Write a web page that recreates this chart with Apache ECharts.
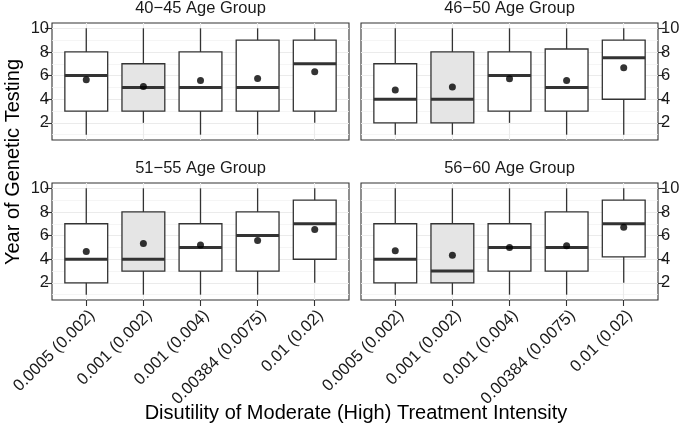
<!DOCTYPE html>
<html>
<head>
<meta charset="utf-8">
<script src="https://cdn.jsdelivr.net/npm/echarts@6/dist/echarts.min.js"></script>
<style>
html,body{margin:0;padding:0;background:#fff;}
#chart{width:685px;height:434px;}
</style>
</head>
<body>
<div id="chart"></div>
<script>
// ---- data ----
const categories = ['0.0005 (0.002)', '0.001 (0.002)', '0.001 (0.004)', '0.00384 (0.0075)', '0.01 (0.02)'];
const panelTitles = ['40\u221245 Age Group', '46\u221250 Age Group', '51\u221255 Age Group', '56\u221260 Age Group'];
const yTicks = [2, 4, 6, 8, 10];
const yMinorTicks = [1, 3, 5, 7, 9];
const xTicks = [1, 2, 3, 4, 5];

const low_40_45 = [1, 2, 1, 1, 2];
const q1_40_45 = [3, 3, 3, 3, 3];
const median_40_45 = [6, 5, 5, 5, 7];
const q3_40_45 = [8, 7, 8, 9, 9];
const high_40_45 = [10, 10, 10, 10, 10];
const mean_40_45 = [5.65, 5.08, 5.59, 5.76, 6.32];

const low_46_50 = [1, 1, 2, 1, 1];
const q1_46_50 = [2, 2, 3, 3, 4];
const median_46_50 = [4, 4, 6, 5, 7.5];
const q3_46_50 = [7, 8, 8, 8.25, 9];
const high_46_50 = [10, 10, 10, 10, 10];
const mean_46_50 = [4.78, 5.03, 5.73, 5.59, 6.66];

const low_51_55 = [1, 1, 1, 1, 2];
const q1_51_55 = [2, 3, 3, 3, 4];
const median_51_55 = [4, 4, 5, 6, 7];
const q3_51_55 = [7, 8, 7, 8, 9];
const high_51_55 = [10, 10, 10, 10, 10];
const mean_51_55 = [4.66, 5.34, 5.2, 5.59, 6.52];

const low_56_60 = [1, 1, 1, 1, 2];
const q1_56_60 = [2, 2, 3, 3, 4.2];
const median_56_60 = [4, 3, 5, 5, 7];
const q3_56_60 = [7, 7, 7, 8, 9];
const high_56_60 = [10, 10, 10, 10, 10];
const mean_56_60 = [4.72, 4.33, 5.0, 5.14, 6.71];

const panels = [
  {low: low_40_45, q1: q1_40_45, med: median_40_45, q3: q3_40_45, high: high_40_45, mean: mean_40_45},
  {low: low_46_50, q1: q1_46_50, med: median_46_50, q3: q3_46_50, high: high_46_50, mean: mean_46_50},
  {low: low_51_55, q1: q1_51_55, med: median_51_55, q3: q3_51_55, high: high_51_55, mean: mean_51_55},
  {low: low_56_60, q1: q1_56_60, med: median_56_60, q3: q3_56_60, high: high_56_60, mean: mean_56_60}
];

// ---- layout / style ----
const FONT = 'Liberation Sans, Arial, Helvetica, sans-serif';
const gridBoxes = [
  {left: 52, top: 23, width: 297, height: 117},
  {left: 361, top: 23, width: 297, height: 117},
  {left: 52, top: 183, width: 297, height: 117},
  {left: 361, top: 183, width: 297, height: 117}
];
const highlightIndex = 1;
const STROKE = '#333333';
const TICK_FONT = 16.5;

const chart = echarts.init(document.getElementById('chart'), null, {renderer: 'canvas'});

const grid = gridBoxes.map(g => Object.assign({
  show: true, borderColor: STROKE, borderWidth: 1.1, backgroundColor: '#ffffff', containLabel: false
}, g));

const xAxis = gridBoxes.map((g, i) => {
  const bottomRow = i >= 2;
  return {
    type: 'value', gridIndex: i, min: 0.4, max: 5.6,
    axisLine: {show: false},
    axisTick: {show: bottomRow, customValues: xTicks, length: 6, lineStyle: {color: STROKE, width: 1.1}},
    axisLabel: {
      show: bottomRow, customValues: xTicks, rotate: 45, margin: 7,
      align: 'right', verticalAlign: 'top',
      fontFamily: FONT, fontSize: TICK_FONT, color: '#1a1a1a',
      formatter: v => categories[Math.round(v) - 1] || ''
    },
    splitLine: {show: true, lineStyle: {color: '#ebebeb', width: 1.1}},
    minorSplitLine: {show: false}
  };
});

const yAxis = [];
gridBoxes.forEach((g, i) => {
  const rightSide = (i % 2) === 1;
  yAxis.push({
    type: 'value', gridIndex: i, min: 0.55, max: 10.45,
    position: rightSide ? 'right' : 'left',
    axisLine: {show: false},
    axisTick: {show: true, customValues: yTicks, length: 7, lineStyle: {color: STROKE, width: 1.1}},
    axisLabel: {show: true, customValues: yTicks, margin: 3, fontFamily: FONT, fontSize: TICK_FONT, color: '#1a1a1a'},
    splitLine: {show: true, lineStyle: {color: '#ebebeb', width: 1.1}}
  });
  yAxis.push({
    type: 'value', gridIndex: i, min: 0.55, max: 10.45,
    position: rightSide ? 'left' : 'right',
    axisLine: {show: false},
    axisTick: {show: false, customValues: yMinorTicks},
    axisLabel: {show: false, customValues: yMinorTicks},
    splitLine: {show: true, lineStyle: {color: '#f2f2f2', width: 0.8}}
  });
});

const series = [];
panels.forEach((p, i) => {
  const boxData = xTicks.map((x, k) => [x, p.low[k], p.q1[k], p.med[k], p.q3[k], p.high[k]]);
  const meanData = xTicks.map((x, k) => [x, p.mean[k]]);
  series.push({
    type: 'custom', xAxisIndex: i, yAxisIndex: i * 2, z: 2,
    encode: {x: 0, y: [1, 2, 3, 4, 5]},
    data: boxData,
    renderItem: (params, api) => {
      const x = api.value(0);
      const half = api.size([0.75, 0])[0] / 2;
      const pLo = api.coord([x, api.value(1)]);
      const pQ1 = api.coord([x, api.value(2)]);
      const pMed = api.coord([x, api.value(3)]);
      const pQ3 = api.coord([x, api.value(4)]);
      const pHi = api.coord([x, api.value(5)]);
      const fill = params.dataIndex === highlightIndex ? '#e5e5e5' : '#ffffff';
      return {
        type: 'group',
        children: [
          {type: 'line', shape: {x1: pLo[0], y1: pLo[1], x2: pQ1[0], y2: pQ1[1]}, style: {stroke: STROKE, lineWidth: 1.3}},
          {type: 'line', shape: {x1: pQ3[0], y1: pQ3[1], x2: pHi[0], y2: pHi[1]}, style: {stroke: STROKE, lineWidth: 1.3}},
          {type: 'rect', shape: {x: pQ1[0] - half, y: pQ3[1], width: half * 2, height: pQ1[1] - pQ3[1]},
            style: {fill: fill, stroke: STROKE, lineWidth: 1.3}},
          {type: 'line', shape: {x1: pMed[0] - half, y1: pMed[1], x2: pMed[0] + half, y2: pMed[1]},
            style: {stroke: STROKE, lineWidth: 3}}
        ]
      };
    }
  });
  series.push({
    type: 'scatter', xAxisIndex: i, yAxisIndex: i * 2, z: 3,
    data: meanData, symbol: 'circle', symbolSize: 7,
    itemStyle: {color: '#000000'}, silent: true
  });
});

const graphic = [];
gridBoxes.forEach((g, i) => {
  graphic.push({
    type: 'text', x: g.left + g.width / 2, y: g.top - 15,
    style: {text: panelTitles[i], font: '16.5px ' + FONT, fill: '#1a1a1a', align: 'center', verticalAlign: 'middle'}
  });
});
graphic.push({
  type: 'text', x: 13, y: 162, rotation: Math.PI / 2,
  style: {text: 'Year of Genetic Testing', font: '20px ' + FONT, fill: '#000', align: 'center', verticalAlign: 'middle'}
});
graphic.push({
  type: 'text', x: 356, y: 413,
  style: {text: 'Disutility of Moderate (High) Treatment Intensity', font: '20px ' + FONT, fill: '#000', align: 'center', verticalAlign: 'middle'}
});

chart.setOption({
  animation: false,
  backgroundColor: '#ffffff',
  grid: grid,
  xAxis: xAxis,
  yAxis: yAxis,
  series: series,
  graphic: graphic
});
</script>
</body>
</html>
